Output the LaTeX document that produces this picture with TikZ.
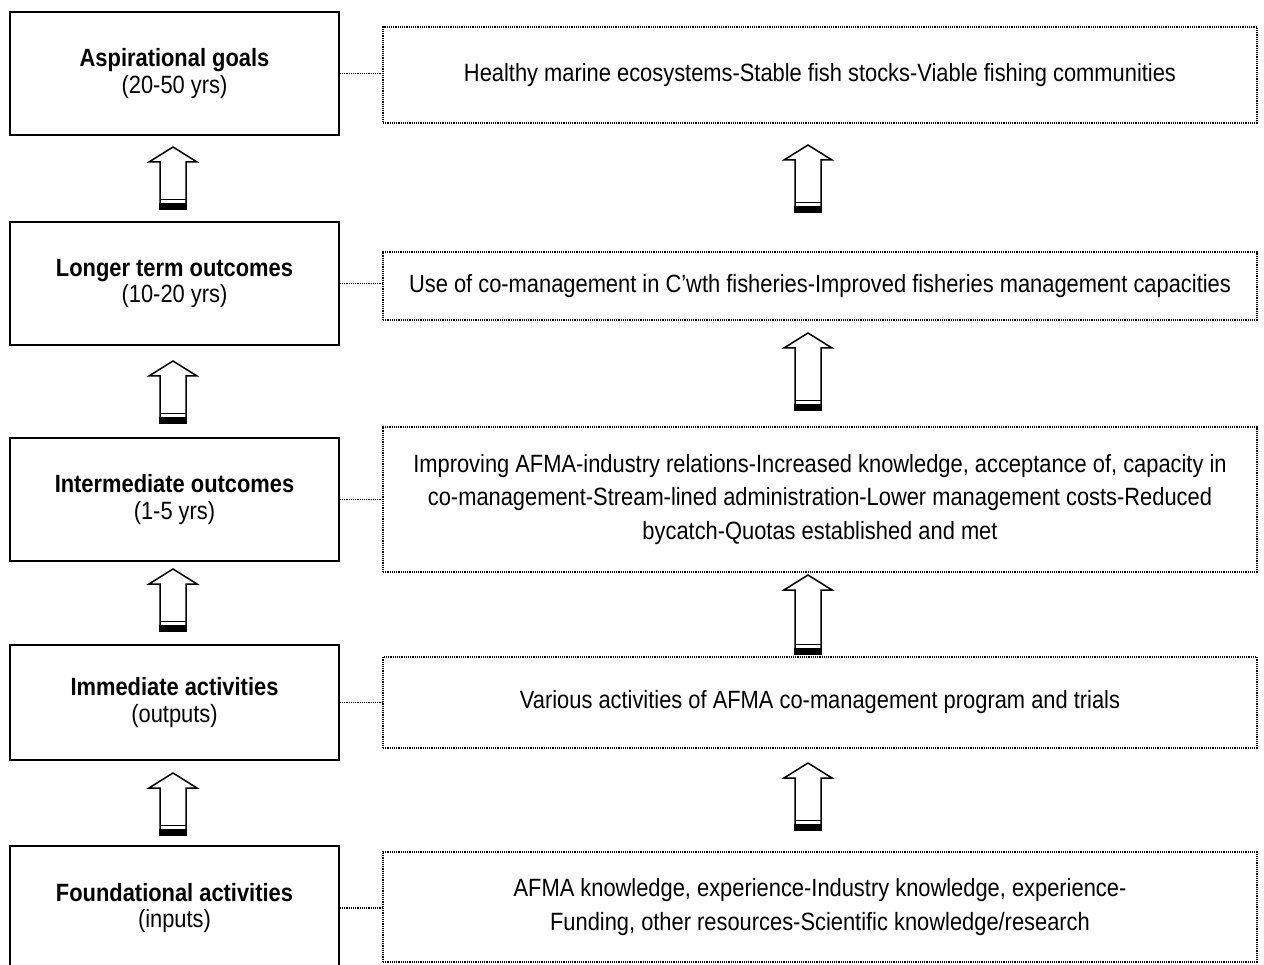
\documentclass[tikz,border=0pt]{standalone}
\usepackage{fontspec}
\setmainfont{Liberation Sans}[FakeStretch=0.875]
\begin{document}
\begin{tikzpicture}[x=1pt,y=-1pt,
  lbox/.style={draw,line width=1.5pt,minimum width=329pt,align=center,inner sep=0pt,font=\fontsize{25}{26.5}\selectfont},
  rbox/.style={draw,densely dotted,line width=1.2pt,minimum width=874pt,align=center,inner sep=0pt,font=\fontsize{25}{33.5}\selectfont},
  link/.style={densely dotted,line width=1.2pt},
  pics/uparrow/.style={code={
    \draw[line width=1.5pt,line join=miter,fill=white] (0,0) -- (24,15) -- (13,15) -- (13,#1) -- (-13,#1) -- (-13,15) -- (-24,15) -- cycle;
    \draw[line width=1.5pt] (-13,#1-9.5) -- (13,#1-9.5);
    \fill (-13.75,#1-6) rectangle (13.75,#1+0.75);
  }}]
\useasboundingbox (0,0) rectangle (1264,965);
\clip (0,0) rectangle (1264,965);
\fill[white] (0,0) rectangle (1264,965);

\node[lbox,minimum height=123pt] (b1) at (174.5,73.5) {\textbf{Aspirational goals}\\(20-50 yrs)};
\node[lbox,minimum height=123pt] (b2) at (174.5,283.5) {\textbf{Longer term outcomes}\\(10-20 yrs)};
\node[lbox,minimum height=123pt] (b3) at (174.5,499.5) {\textbf{Intermediate outcomes}\\(1-5 yrs)};
\node[lbox,minimum height=115pt] (b4) at (174.5,702.5) {\textbf{Immediate activities}\\(outputs)};
\node[lbox,minimum height=124pt] (b5) at (174.5,908) {\textbf{Foundational activities}\\(inputs)};

\node[rbox,minimum height=96pt] (r1) at (820,75) {Healthy marine ecosystems-Stable fish stocks-Viable fishing communities};
\node[rbox,minimum height=68pt] (r2) at (820,286) {Use of co-management in C’wth fisheries-Improved fisheries management capacities};
\node[rbox,minimum height=145pt] (r3) at (820,499.5) {Improving AFMA-industry relations-Increased knowledge, acceptance of, capacity in\\co-management-Stream-lined administration-Lower management costs-Reduced\\bycatch-Quotas established and met};
\node[rbox,minimum height=91pt] (r4) at (820,702.5) {Various activities of AFMA co-management program and trials};
\node[rbox,minimum height=110pt] (r5) at (820,907) {AFMA knowledge, experience-Industry knowledge, experience-\\Funding, other resources-Scientific knowledge/research};

\foreach \i in {1,...,5} {
  \draw[link] (b\i.east) -- (b\i.east -| r\i.west);
}

\pic at (173,147) {uparrow=62};
\pic at (173,361) {uparrow=62};
\pic at (173,569) {uparrow=62};
\pic at (173,773) {uparrow=62};

\pic at (808,145) {uparrow=67};
\pic at (808,333) {uparrow=77};
\pic at (808,575) {uparrow=79};
\pic at (808,763) {uparrow=67};
\end{tikzpicture}
\end{document}
